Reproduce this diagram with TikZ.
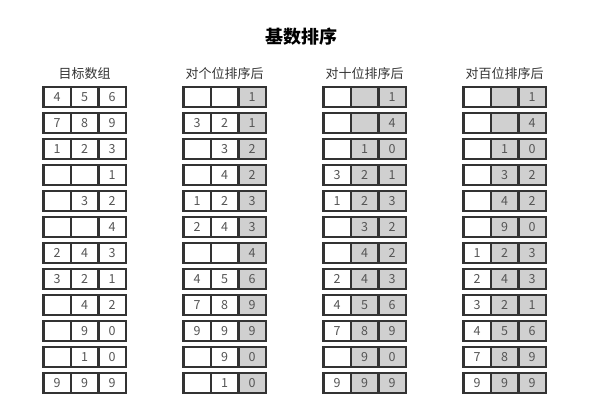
\documentclass[tikz,border=0pt]{standalone}
\usepackage{fontspec}
\setmainfont{Noto Sans CJK SC}
\usepackage{xcolor}
\usetikzlibrary{positioning}
\definecolor{boxline}{HTML}{333333}
\definecolor{digit}{HTML}{555555}
\definecolor{shade}{HTML}{D0D0D0}

\begin{document}
\begin{tikzpicture}[x=1pt, y=-1pt]
	\tikzstyle{cell} = [rectangle, minimum width=27.5pt, minimum height=20pt, inner sep=0pt, outer sep=0pt, draw=boxline, line width=2.4pt, fill=white, text=digit, font=\fontsize{12.5}{12.5}\selectfont]
	\tikzstyle{grey} = [cell, fill=shade]
	\tikzstyle{header} = [text=black!80, font=\fontsize{13}{13}\selectfont]
	
	\useasboundingbox (0,0) rectangle (589,419);
	
	% Title
	\node (title) at (301,37) {\fontsize{18}{18}\selectfont\bfseries 基数排序};
	
	% Target array
	\foreach \a/\b/\c [count=\r] in {4/5/6, 7/8/9, 1/2/3, {}/{}/1, {}/3/2, {}/{}/4, 2/4/3, 3/2/1, {}/4/2, {}/9/0, {}/1/0, 9/9/9} {
		\node (src-\r-a) [cell] at (57.05, 97.3+26*\r-26) {\a};
		\node (src-\r-b) [cell, right=0pt of src-\r-a] {\b};
		\node (src-\r-c) [cell, right=0pt of src-\r-b] {\c};
	}
	\node (src-head) [header, above=4pt of src-1-b] {目标数组};
	
	% After ones
	\foreach \a/\b/\c [count=\r] in {{}/{}/1, 3/2/1, {}/3/2, {}/4/2, 1/2/3, 2/4/3, {}/{}/4, 4/5/6, 7/8/9, 9/9/9, {}/9/0, {}/1/0} {
		\node (ones-\r-a) [cell] at (197.05, 97.3+26*\r-26) {\a};
		\node (ones-\r-b) [cell, right=0pt of ones-\r-a] {\b};
		\node (ones-\r-c) [grey, right=0pt of ones-\r-b] {\c};
	}
	\node (ones-head) [header, above=4pt of ones-1-b] {对个位排序后};
	
	% After tens
	\foreach \a/\b/\c [count=\r] in {{}/{}/1, {}/{}/4, {}/1/0, 3/2/1, 1/2/3, {}/3/2, {}/4/2, 2/4/3, 4/5/6, 7/8/9, {}/9/0, 9/9/9} {
		\node (tens-\r-a) [cell] at (337.05, 97.3+26*\r-26) {\a};
		\node (tens-\r-b) [grey, right=0pt of tens-\r-a] {\b};
		\node (tens-\r-c) [grey, right=0pt of tens-\r-b] {\c};
	}
	\node (tens-head) [header, above=4pt of tens-1-b] {对十位排序后};
	
	% After hundreds
	\foreach \a/\b/\c [count=\r] in {{}/{}/1, {}/{}/4, {}/1/0, {}/3/2, {}/4/2, {}/9/0, 1/2/3, 2/4/3, 3/2/1, 4/5/6, 7/8/9, 9/9/9} {
		\node (hund-\r-a) [cell] at (477.05, 97.3+26*\r-26) {\a};
		\node (hund-\r-b) [grey, right=0pt of hund-\r-a] {\b};
		\node (hund-\r-c) [grey, right=0pt of hund-\r-b] {\c};
	}
	\node (hund-head) [header, above=4pt of hund-1-b] {对百位排序后};
	
\end{tikzpicture}
\end{document}
